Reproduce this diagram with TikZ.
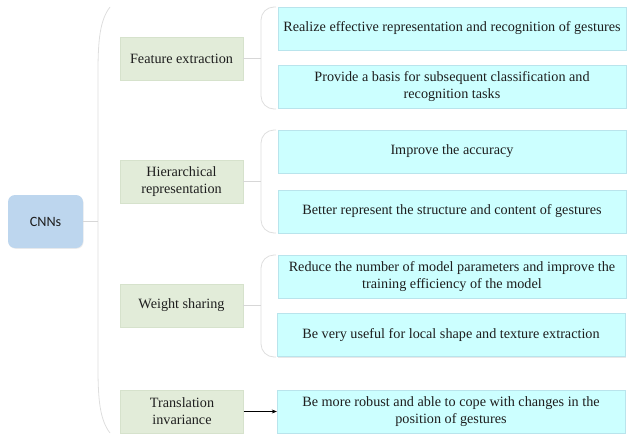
\documentclass[tikz,border=0pt]{standalone}
\usepackage{fontspec}
\setmainfont{Liberation Serif}
\newfontfamily\calfont{Carlito}
\usetikzlibrary{shadows, arrows.meta}

\begin{document}
\begin{tikzpicture}[
    x=1pt, y=-1pt,
    every node/.style={font=\fontsize{14.2}{17}\selectfont, text={rgb,255:red,30;green,30;blue,30}},
    rootbox/.style={
        rectangle, rounded corners=7pt,
        fill={rgb,255:red,189;green,214;blue,238},
        minimum width=75pt, minimum height=53pt,
        font=\calfont\fontsize{14.2}{17}\selectfont,
        drop shadow={shadow xshift=0.6pt, shadow yshift=-0.8pt, opacity=0.15}
    },
    featbox/.style={
        rectangle, fill={rgb,255:red,226;green,236;blue,217},
        draw={rgb,255:red,214;green,226;blue,204}, line width=0.4pt,
        minimum width=123pt, minimum height=43pt, align=center,
        drop shadow={shadow xshift=0.8pt, shadow yshift=-1pt, opacity=0.18}
    },
    descbox/.style={
        rectangle, fill={rgb,255:red,204;green,255;blue,255},
        draw={rgb,255:red,185;green,228;blue,236}, line width=0.4pt,
        minimum width=348pt, minimum height=43pt, align=center,
        drop shadow={shadow xshift=0.8pt, shadow yshift=-1pt, opacity=0.18}
    },
    brace/.style={draw={rgb,255:red,222;green,222;blue,222}, line width=0.8pt},
    link/.style={draw={rgb,255:red,215;green,215;blue,215}, line width=0.7pt}
]

\useasboundingbox (0, 0) rectangle (628, 439);

%% ── Root ───────────────────────────────────────────────────────────
\node[rootbox] (cnn) at (45.5, 221.5) {CNNs};

%% Big brace holding the four properties
\draw[brace] (110, 7) .. controls (100, 20) and (98, 40) .. (98, 72)
    -- (98, 368) .. controls (98, 400) and (100, 420) .. (110, 433);
\coordinate (mainbr) at (98, 221.5);
\draw[link] (cnn) -- (mainbr);

%% ── Properties (green) ─────────────────────────────────────────────
\node[featbox] (feat)  at (181.5, 58.5)  {Feature extraction};
\node[featbox] (hier)  at (181.5, 181.5) {Hierarchical\\representation};
\node[featbox] (wsh)   at (181.5, 305.5) {Weight sharing};
\node[featbox] (trans) at (182, 411.5)   {Translation\\invariance};

%% ── Small braces ───────────────────────────────────────────────────
\draw[brace, rounded corners=13pt] (276, 7)   -- (261, 7)   -- (261, 109) -- (276, 109);
\draw[brace, rounded corners=13pt] (276, 130) -- (261, 130) -- (261, 233) -- (276, 233);
\draw[brace, rounded corners=13pt] (276, 255) -- (261, 255) -- (261, 357) -- (276, 357);

\coordinate (featbr) at (261, 58.5);
\coordinate (hierbr) at (261, 181.5);
\coordinate (wshbr)  at (261, 305.5);
\draw[link] (feat) -- (featbr);
\draw[link] (hier) -- (hierbr);
\draw[link] (wsh)  -- (wshbr);

%% ── Descriptions (cyan) ────────────────────────────────────────────
\node[descbox] (feat1) at (452, 28.5)  {Realize effective representation and recognition of gestures};
\node[descbox] (feat2) at (452, 86.5)  {Provide a basis for subsequent classification and\\recognition tasks};

\node[descbox] (hier1) at (452, 151.5) {Improve the accuracy};
\node[descbox] (hier2) at (452, 211.5) {Better represent the structure and content of gestures};

\node[descbox] (wsh1)  at (452, 276.5) {Reduce the number of model parameters and improve the\\training efficiency of the model};
\node[descbox] (wsh2)  at (451, 335)   {Be very useful for local shape and texture extraction};

\node[descbox] (trans1) at (451, 411.5) {Be more robust and able to cope with changes in the\\position of gestures};

\draw[-{Stealth[length=5pt, width=4pt]}, line width=0.6pt] (trans) -- (trans1);

\end{tikzpicture}
\end{document}
